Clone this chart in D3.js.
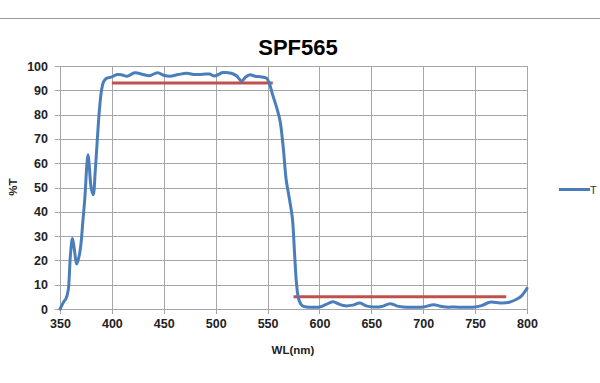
<!DOCTYPE html>
<html>
<head>
<meta charset="utf-8">
<script src="https://cdn.jsdelivr.net/npm/d3@7"></script>
<style>
html,body{margin:0;padding:0;background:#fff;}
svg{display:block;}
text{font-family:"Liberation Sans",Arial,sans-serif;}
</style>
</head>
<body>
<svg id="chart" width="600" height="383"></svg>
<script>
const title = "SPF565";
const xLabel = "WL(nm)";
const yLabel = "%T";
const seriesName = "T";
const xTicks = [350,400,450,500,550,600,650,700,750,800];
const yTicks = [0,10,20,30,40,50,60,70,80,90,100];

const wavelength = [350,353,356,358,360,362,364,366,368,370,372,374,376,377,378,380,382,384,386,388,390,392,395,400,405,410,415,422,430,436,444,450,456,464,472,480,488,494,499,507,515,520,525,529,533,538,543,549,552,555,558,562,565,568,571,574,576,578,580,583,588,595,600,606,613,619,625,632,639,645,652,660,668,675,681,690,700,710,716,722,730,740,750,757,764,770,776,783,790,795,800];
const transmission = [0,2.5,4.5,8,22,29,24,18.5,21,26,36,46,60,63.5,60,50,47,57,70,82,90,93.5,95,95.5,96.5,96.3,95.8,97.2,96.5,96,97.2,96.2,95.8,96.5,97,96.5,96.6,96.7,95.9,97.3,97,96,93.8,95.5,96.4,95.8,95.6,95,92.5,88,84,77.5,67,53,45.5,37,23,10,4,1.5,0.8,0.7,0.8,1.8,3,2,1.3,1.6,2.5,1.3,0.8,1,2.2,1.2,0.8,0.7,0.8,1.8,1.2,0.8,0.8,0.7,0.8,1.5,2.8,2.7,2.5,2.8,4,5.5,8.5];

const specPassX = [400,555];
const specPassY = [93,93];
const specBlockX = [575,780];
const specBlockY = [5,5];

const svg = d3.select("#chart");
const W = 600, H = 383;
const m = {left:60, right:73, top:66, bottom:74};
const x = d3.scaleLinear().domain([350,800]).range([m.left, W - m.right]);
const y = d3.scaleLinear().domain([0,100]).range([H - m.bottom, m.top]);

// top border line
svg.append("line").attr("x1",0).attr("x2",W).attr("y1",18.5).attr("y2",18.5)
  .attr("stroke","#9a9a9a").attr("stroke-width",1);

const gridColor = "#a6a6a6";
// grid
svg.append("g").selectAll("line").data(yTicks).join("line")
  .attr("x1", m.left-5).attr("x2", W-m.right)
  .attr("y1", d=>Math.round(y(d))+0.5).attr("y2", d=>Math.round(y(d))+0.5)
  .attr("stroke", gridColor).attr("stroke-width",1);
svg.append("g").selectAll("line").data(xTicks).join("line")
  .attr("x1", d=>Math.round(x(d))+0.5).attr("x2", d=>Math.round(x(d))+0.5)
  .attr("y1", m.top).attr("y2", H-m.bottom+5)
  .attr("stroke", gridColor).attr("stroke-width",1);

// axes labels
const yAxis = d3.axisLeft(y).tickValues(yTicks).tickSize(0).tickPadding(0);
const gy = svg.append("g").attr("transform",`translate(${m.left-12},0)`).call(yAxis);
gy.select(".domain").remove();
gy.selectAll("text").attr("font-size","12.5px").attr("font-weight","bold").attr("fill","#222")
  .attr("font-family","'Liberation Sans',Arial,sans-serif");

const xAxis = d3.axisBottom(x).tickValues(xTicks).tickSize(0).tickPadding(0);
const gx = svg.append("g").attr("transform",`translate(0,${H-m.bottom+10})`).call(xAxis);
gx.select(".domain").remove();
gx.selectAll("text").attr("font-size","12.5px").attr("font-weight","bold").attr("fill","#222")
  .attr("font-family","'Liberation Sans',Arial,sans-serif");

// spec lines
const line = d3.line().x(d=>x(d[0])).y(d=>y(d[1]));
svg.append("path").datum(d3.zip(specPassX, specPassY)).attr("d", line)
  .attr("fill","none").attr("stroke","#c0504d").attr("stroke-width",3);
svg.append("path").datum(d3.zip(specBlockX, specBlockY)).attr("d", line)
  .attr("fill","none").attr("stroke","#c0504d").attr("stroke-width",3);

// series
const curve = d3.line().x(d=>x(d[0])).y(d=>y(d[1])).curve(d3.curveCatmullRom.alpha(0.5));
svg.append("path").datum(d3.zip(wavelength, transmission)).attr("d", curve)
  .attr("fill","none").attr("stroke","#4a7ebb").attr("stroke-width",3)
  .attr("stroke-linejoin","round").attr("stroke-linecap","round");

// title
svg.append("text").attr("x", 298).attr("y", 55).attr("text-anchor","middle")
  .attr("font-size","22px").attr("font-weight","bold").attr("fill","#000")
  .attr("font-family","Lato,'Liberation Sans',sans-serif").text(title);

// axis titles
svg.append("text").attr("x", 293).attr("y", 354).attr("text-anchor","middle")
  .attr("font-size","11.5px").attr("font-weight","bold").attr("fill","#222").text(xLabel);
svg.append("text").attr("transform","translate(17,187) rotate(-90)").attr("text-anchor","middle")
  .attr("font-size","11.5px").attr("font-weight","bold").attr("fill","#222").text(yLabel);

// legend
svg.append("line").attr("x1",559).attr("x2",590).attr("y1",189.5).attr("y2",189.5)
  .attr("stroke","#4a7ebb").attr("stroke-width",3);
svg.append("text").attr("x",590).attr("y",193.5).attr("font-size","11px").attr("fill","#333").text(seriesName);
</script>
</body>
</html>
